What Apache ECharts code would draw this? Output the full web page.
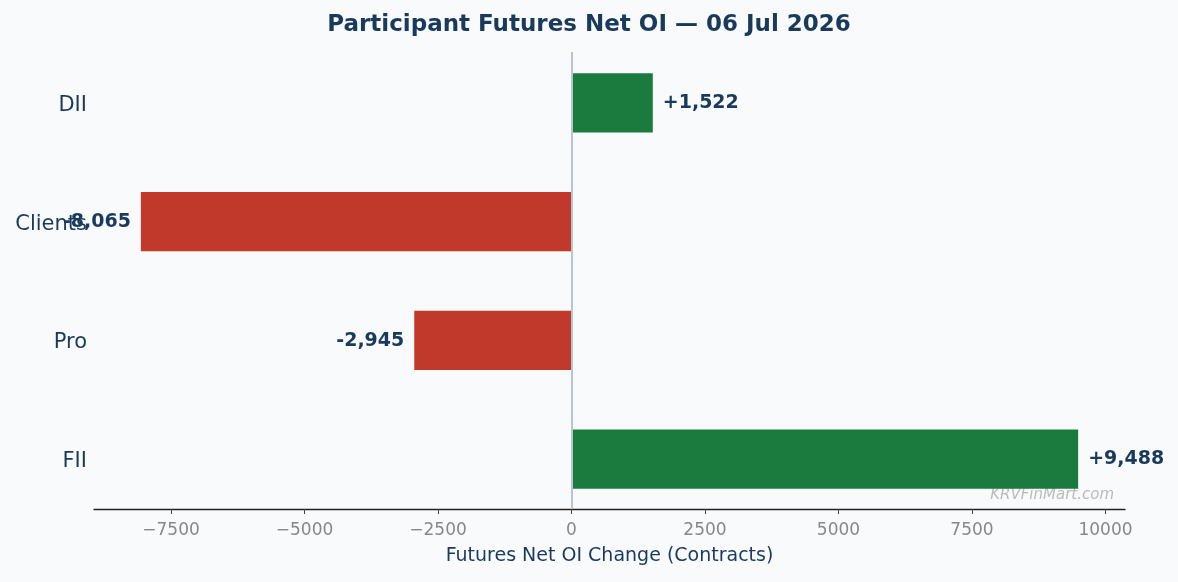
<!DOCTYPE html>
<html>
<head>
<meta charset="utf-8">
<script src="https://cdn.jsdelivr.net/npm/echarts@6/dist/echarts.min.js"></script>
<style>
  html, body { margin: 0; padding: 0; background: #f8fafc; }
  #chart { width: 1178px; height: 582px; }
</style>
</head>
<body>
<div id="chart"></div>
<script>
// participants, bottom to top
var participants = ['FII', 'Pro', 'Clients', 'DII'];
var netOI = [9488, -2945, -8065, 1522];
var tickStep = 2500;

var navy = '#1a3a5c';
var xMin = -8942.65, xMax = 10365.65;
var yMin = -0.425, yMax = 3.425;

function fmtLabel(v) {
    var s = Math.abs(v).toLocaleString('en-US');
    return (v >= 0 ? '+' : '-') + s;
}

var chart = echarts.init(document.getElementById('chart'));

var option = {
    backgroundColor: '#f8fafc',
    title: {
        text: 'Participant Futures Net OI — 06 Jul 2026',
        left: 'center',
        top: 9,
        textStyle: {
            fontFamily: 'DejaVu Sans',
            fontWeight: 'bold',
            fontSize: 23,
            color: navy
        }
    },
    graphic: [{
        type: 'text',
        right: 64,
        top: 488,
        style: {
            text: 'KRVFinMart.com',
            fontFamily: 'DejaVu Sans',
            fontStyle: 'italic',
            fontSize: 15,
            fill: '#bbbbbb'
        }
    }],
    grid: {
        left: 94,
        right: 53,
        top: 52,
        bottom: 73
    },
    xAxis: {
        type: 'value',
        min: xMin,
        max: xMax,
        minInterval: tickStep,
        maxInterval: tickStep,
        splitLine: { show: false },
        axisLine: { show: true, onZero: false, lineStyle: { color: '#222', width: 1.3 } },
        axisTick: {
            show: true,
            inside: false,
            length: 5,
            lineStyle: { color: '#444', width: 1 }
        },
        axisLabel: {
            showMinLabel: false,
            showMaxLabel: false,
            margin: 13,
            fontFamily: 'DejaVu Sans',
            fontSize: 17,
            color: '#888888',
            formatter: function (v) { return String(v).replace('-', '\u2212'); }
        },
        name: 'Futures Net OI Change (Contracts)',
        nameLocation: 'middle',
        nameGap: 38,
        nameTextStyle: {
            fontFamily: 'DejaVu Sans',
            fontSize: 19,
            color: navy
        }
    },
    yAxis: {
        type: 'value',
        min: yMin,
        max: yMax,
        splitLine: { show: false },
        axisLine: { show: false },
        axisTick: { show: false },
        axisLabel: {
            customValues: [0, 1, 2, 3],
            margin: 7,
            formatter: function (v) { return '{p|' + participants[Math.round(v)] + '}'; },
            rich: {
                p: {
                    padding: [6, 0, 0, 0],
                    fontFamily: 'DejaVu Sans',
                    fontSize: 21,
                    color: navy
                }
            }
        }
    },
    series: [{
        type: 'custom',
        data: netOI.map(function (v, i) { return [v, i]; }),
        encode: { x: 0, y: 1 },
        renderItem: function (params, api) {
            var v = api.value(0);
            var i = api.value(1);
            var p0 = api.coord([0, i]);
            var p1 = api.coord([v, i]);
            var h = api.size([0, 0.5])[1];
            var x = Math.min(p0[0], p1[0]);
            var w = Math.abs(p1[0] - p0[0]);
            var pos = v >= 0;
            return {
                type: 'group',
                children: [{
                    type: 'rect',
                    shape: { x: x, y: p0[1] - h / 2 + 0.5, width: w, height: h },
                    style: { fill: pos ? '#1b7a3d' : '#c0392b' }
                }, {
                    type: 'text',
                    style: {
                        text: fmtLabel(v),
                        x: pos ? p1[0] + 10 : p1[0] - 10,
                        y: p1[1] + 1,
                        align: pos ? 'left' : 'right',
                        verticalAlign: 'middle',
                        fontFamily: 'DejaVu Sans',
                        fontWeight: 'bold',
                        fontSize: 19,
                        fill: navy
                    },
                    z2: 10
                }]
            };
        },
        markLine: {
            silent: true,
            symbol: 'none',
            label: { show: false },
            lineStyle: { color: '#b8c4d0', width: 2, type: 'solid' },
            data: [{ xAxis: 0 }]
        },
        z: 2
    }]
};

chart.setOption(option);
window.onresize = function () { chart.resize(); };
</script>
</body>
</html>
